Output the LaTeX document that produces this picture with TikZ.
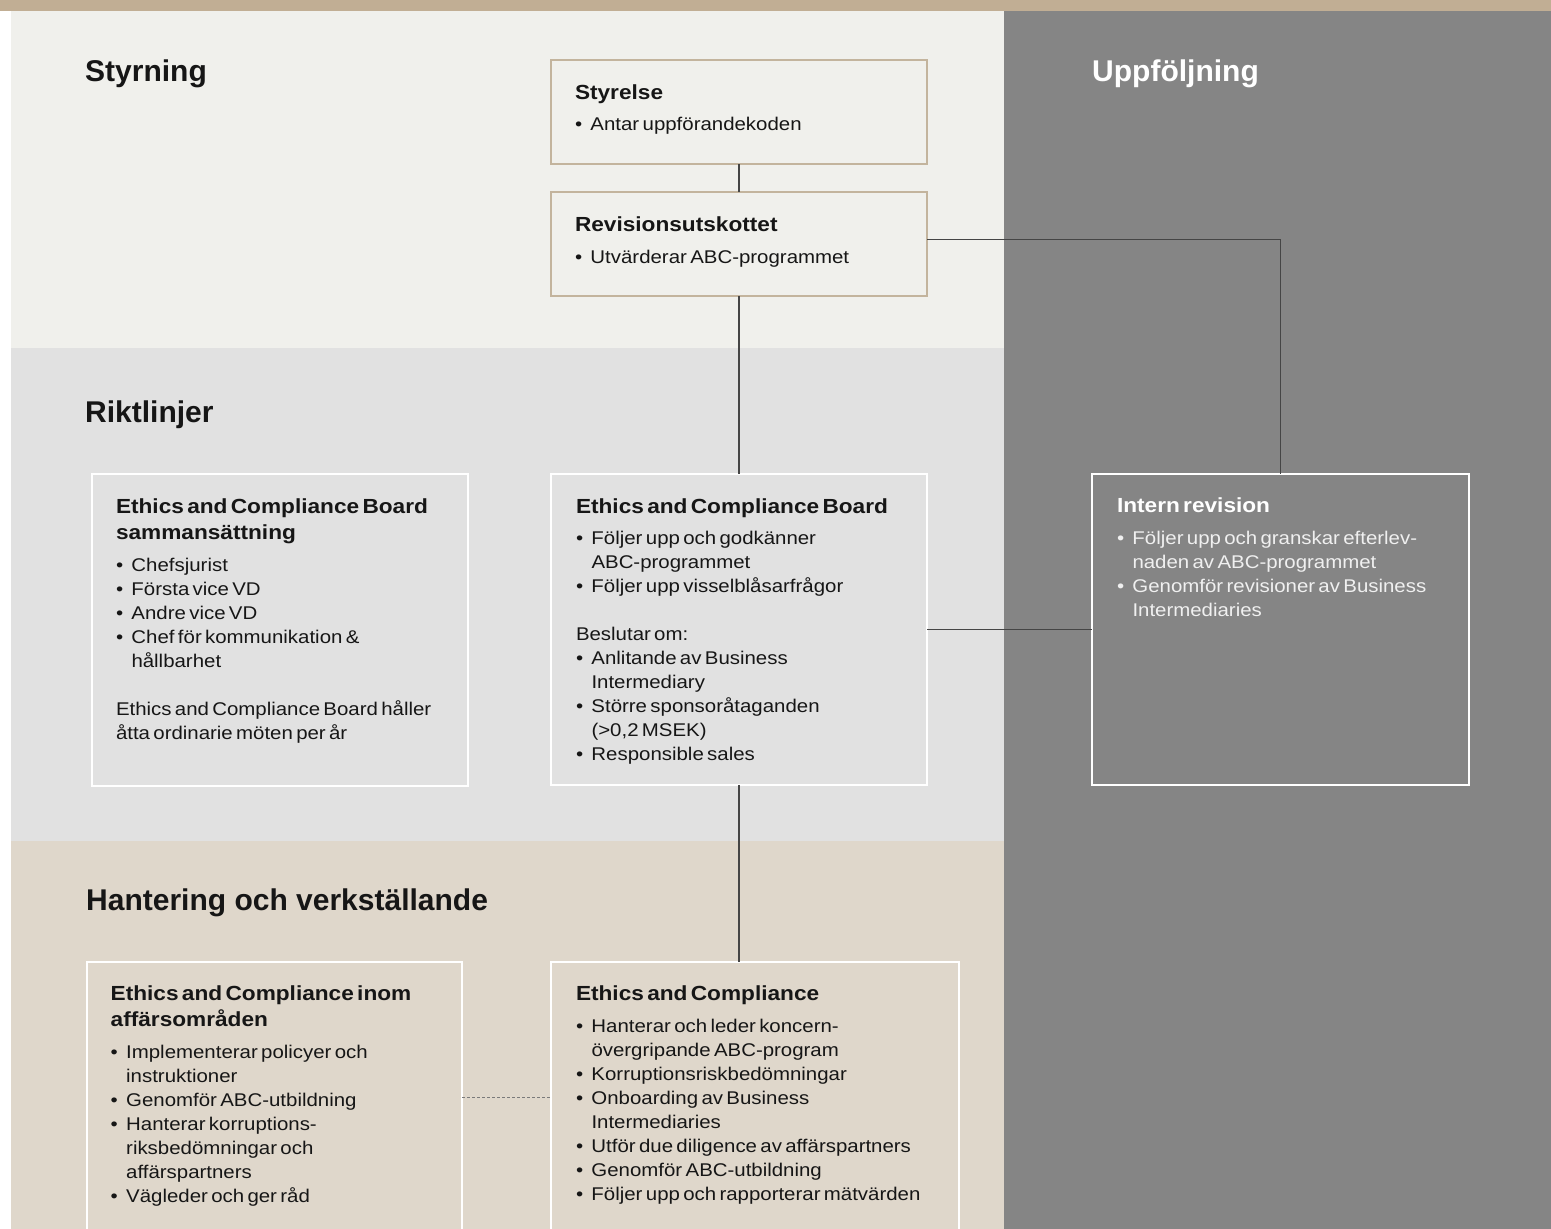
\documentclass[tikz,border=0pt]{standalone}
\usepackage{fontspec}
\setmainfont{Liberation Sans}
\newfontfamily\boxfont{Liberation Sans}[FakeStretch=1.11]
\definecolor{bandtan}{HTML}{C1AE94}
\definecolor{panelA}{HTML}{F0F0EC}
\definecolor{panelB}{HTML}{E1E1E1}
\definecolor{panelC}{HTML}{DFD7CB}
\definecolor{panelD}{HTML}{858585}
\definecolor{boxtan}{HTML}{C3B49D}
\definecolor{ink}{HTML}{161616}
\definecolor{linegray}{HTML}{454545}
\definecolor{dashgray}{HTML}{7A7A7A}
\definecolor{irtext}{HTML}{F0F0F0}
\newcommand\bulpt{\makebox[15.5pt][l]{•}}
\newcommand\contpt{\hspace*{15.5pt}}
\newcommand\bodysz{\fontsize{18.4}{24}\selectfont}
\newcommand\boxtitle[1]{{\fontsize{20.4}{26.5}\selectfont\bfseries #1\par}\vspace{7.5pt}}
\tikzset{
  heading/.style={anchor=base west, inner sep=0pt, font=\fontsize{30}{36}\selectfont\bfseries, text=ink},
  tanbox/.style={draw=boxtan, line width=2.5pt, inner sep=0pt, outer sep=0pt, anchor=north west},
  whitebox/.style={draw=white, line width=2.2pt, inner sep=0pt, outer sep=0pt, anchor=north west},
  boxtext/.style={anchor=base west, inner sep=0pt, outer sep=0pt, align=left, text width=#1, font=\boxfont, text=ink},
  boxtext/.default=345pt,
  conn/.style={draw=linegray, line width=1.2pt},
  dashconn/.style={draw=dashgray, line width=1pt, dash pattern=on 3pt off 2pt},
}
\begin{document}
\begin{tikzpicture}[x=1pt,y=-1pt]
\useasboundingbox (0,0) rectangle (1551,1229);
% panels
\fill[white] (0,0) rectangle (1551,1229);
\fill[bandtan] (0,0) rectangle (1551,11);
\fill[panelA] (11,11) rectangle (1004,348);
\fill[panelB] (11,348) rectangle (1004,841);
\fill[panelC] (11,841) rectangle (1004,1229);
\fill[panelD] (1004,11) rectangle (1551,1229);
% headings
\node[heading] (hstyr) at (85,81) {Styrning};
\node[heading, text=white] (hupp) at (1092,81) {Uppföljning};
\node[heading] (hrikt) at (85,422.5) {Riktlinjer};
\node[heading] (hhant) at (86,910.7) {Hantering och verkställande};
% boxes
\node[tanbox, minimum width=376pt, minimum height=104pt] (sty) at (551,60) {};
\node[tanbox, minimum width=376pt, minimum height=104pt] (rev) at (551,192) {};
\node[whitebox, minimum width=376pt, minimum height=312pt] (ecbs) at (92,474) {};
\node[whitebox, minimum width=376pt, minimum height=311pt] (ecb) at (551,474) {};
\node[whitebox, minimum width=377pt, minimum height=311pt] (ir) at (1092,474) {};
\node[whitebox, minimum width=375pt, minimum height=270pt] (ecin) at (87,962) {};
\node[whitebox, minimum width=408pt, minimum height=270pt] (ec) at (551,962) {};
% box texts
\node[boxtext] (tsty) at (575,99.3) {\boxtitle{Styrelse}{\bodysz\bulpt Antar uppförandekoden\par}};
\node[boxtext] (trev) at (575,231.7) {\boxtitle{Revisionsutskottet}{\bodysz\bulpt Utvärderar ABC-programmet\par}};
\node[boxtext=350pt] (tecbs) at (116,513.3) {\boxtitle{Ethics and Compliance Board\\ sammansättning}{\bodysz
\bulpt Chefsjurist\\
\bulpt Första vice VD\\
\bulpt Andre vice VD\\
\bulpt Chef för kommunikation \&\\
\contpt hållbarhet\\[24pt]
Ethics and Compliance Board håller\\
åtta ordinarie möten per år\par}};
\node[boxtext] (tecb) at (576,513) {\boxtitle{Ethics and Compliance Board}{\bodysz
\bulpt Följer upp och godkänner\\
\contpt ABC-programmet\\
\bulpt Följer upp visselblåsarfrågor\\[24pt]
Beslutar om:\\
\bulpt Anlitande av Business\\
\contpt Intermediary\\
\bulpt Större sponsoråtaganden\\
\contpt (>0,2 MSEK)\\
\bulpt Responsible sales\par}};
\node[boxtext, text=irtext] (tir) at (1117,512.7) {\boxtitle{\color{white}Intern revision}{\bodysz
\bulpt Följer upp och granskar efterlev-\\
\contpt naden av ABC-programmet\\
\bulpt Genomför revisioner av Business\\
\contpt Intermediaries\par}};
\node[boxtext] (tecin) at (110.7,1000) {\boxtitle{Ethics and Compliance inom\\ affärsområden}{\bodysz
\bulpt Implementerar policyer och\\
\contpt instruktioner\\
\bulpt Genomför ABC-utbildning\\
\bulpt Hanterar korruptions-\\
\contpt riksbedömningar och\\
\contpt affärspartners\\
\bulpt Vägleder och ger råd\par}};
\node[boxtext=380pt] (tec) at (576,1000.7) {\boxtitle{Ethics and Compliance}{\bodysz
\bulpt Hanterar och leder koncern-\\
\contpt övergripande ABC-program\\
\bulpt Korruptionsriskbedömningar\\
\bulpt Onboarding av Business\\
\contpt Intermediaries\\
\bulpt Utför due diligence av affärspartners\\
\bulpt Genomför ABC-utbildning\\
\bulpt Följer upp och rapporterar mätvärden\par}};
% connectors
\draw[conn] (sty.south) -- (rev.north);
\draw[conn] (rev.south) -- (ecb.north);
\draw[conn] ([yshift=4.5pt]rev.east) -| (ir.north);
\draw[conn] (ecb.east) -- (ir.west);
\draw[conn] (ecb.south) -- (ecb.south |- ec.north);
\draw[dashconn] (ecin.east) -- (ec.west);
\end{tikzpicture}
\end{document}
